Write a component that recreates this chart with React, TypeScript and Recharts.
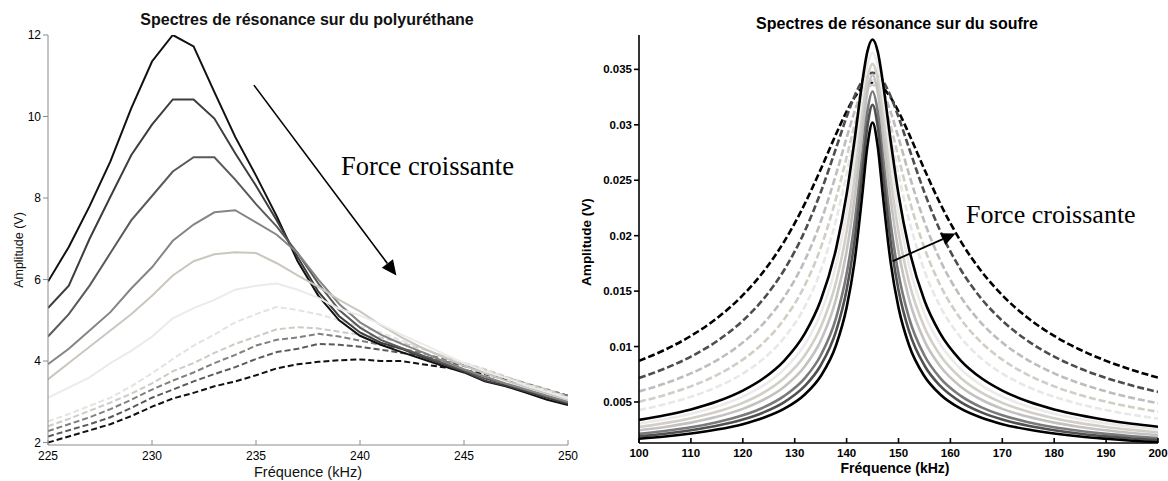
import React from 'react';
import { LineChart, Line, XAxis, YAxis, ReferenceLine } from 'recharts';

// ---------- Left panel: polyurethane ----------
const leftFreq = [225, 226, 227, 228, 229, 230, 231, 232, 233, 234, 235, 236, 237, 238, 239, 240, 241, 242, 243, 244, 245, 246, 247, 248, 249, 250];
const leftXTicks = [225, 230, 235, 240, 245, 250];
const leftYTicks = [2, 4, 6, 8, 10, 12];

const L1 = [5.95, 6.8, 7.8, 8.9, 10.2, 11.35, 12.0, 11.72, 10.6, 9.5, 8.55, 7.55, 6.45, 5.6, 5.0, 4.62, 4.4, 4.22, 4.05, 3.88, 3.72, 3.5, 3.38, 3.22, 3.05, 2.92];
const L2 = [5.3, 5.85, 7.0, 8.03, 9.05, 9.8, 10.42, 10.42, 9.95, 9.1, 8.3, 7.45, 6.55, 5.7, 5.1, 4.7, 4.45, 4.3, 4.1, 3.92, 3.74, 3.52, 3.4, 3.25, 3.1, 2.95];
const L3 = [4.6, 5.15, 5.85, 6.65, 7.45, 8.05, 8.65, 9.0, 9.0, 8.45, 7.85, 7.3, 6.65, 5.9, 5.25, 4.82, 4.52, 4.32, 4.14, 3.95, 3.77, 3.57, 3.44, 3.28, 3.13, 2.98];
const L4 = [3.92, 4.3, 4.75, 5.2, 5.78, 6.3, 6.95, 7.35, 7.65, 7.7, 7.4, 7.1, 6.65, 6.0, 5.4, 4.95, 4.65, 4.42, 4.22, 4.0, 3.8, 3.62, 3.45, 3.3, 3.15, 3.0];
const L5 = [3.55, 3.95, 4.35, 4.75, 5.15, 5.6, 6.1, 6.45, 6.62, 6.67, 6.65, 6.4, 6.1, 5.82, 5.5, 5.22, 4.88, 4.58, 4.32, 4.1, 3.88, 3.7, 3.52, 3.36, 3.2, 3.05];
const L6 = [3.1, 3.35, 3.6, 3.95, 4.25, 4.6, 5.05, 5.3, 5.5, 5.75, 5.85, 5.9, 5.75, 5.55, 5.28, 5.12, 4.9, 4.65, 4.42, 4.18, 3.95, 3.75, 3.58, 3.4, 3.25, 3.08];
const L7 = [2.52, 2.7, 2.9, 3.1, 3.38, 3.7, 4.05, 4.38, 4.65, 4.95, 5.15, 5.33, 5.25, 5.15, 5.0, 4.85, 4.7, 4.5, 4.32, 4.12, 3.95, 3.78, 3.6, 3.42, 3.28, 3.1];
const L8 = [2.4, 2.58, 2.78, 2.98, 3.2, 3.45, 3.75, 3.95, 4.2, 4.42, 4.6, 4.78, 4.83, 4.8, 4.72, 4.65, 4.58, 4.45, 4.3, 4.12, 3.95, 3.8, 3.62, 3.45, 3.3, 3.12];
const L9 = [2.28, 2.45, 2.62, 2.82, 3.05, 3.3, 3.52, 3.72, 3.95, 4.15, 4.38, 4.52, 4.58, 4.67, 4.6, 4.5, 4.4, 4.3, 4.2, 4.05, 3.9, 3.75, 3.6, 3.45, 3.3, 3.15];
const L10 = [2.15, 2.3, 2.45, 2.62, 2.85, 3.1, 3.3, 3.5, 3.68, 3.85, 4.05, 4.22, 4.3, 4.42, 4.4, 4.35, 4.28, 4.2, 4.12, 4.0, 3.88, 3.72, 3.58, 3.42, 3.28, 3.12];
const L11 = [2.0, 2.15, 2.3, 2.45, 2.65, 2.88, 3.08, 3.22, 3.38, 3.5, 3.65, 3.82, 3.92, 3.98, 4.02, 4.04, 4.0, 4.0, 3.92, 3.85, 3.78, 3.68, 3.55, 3.42, 3.28, 3.15];

// arrow annotation (data coordinates)
const leftArrowFrom = { x: 234.9, y: 10.77 };
const leftArrowTo = { x: 241.75, y: 6.1 };

// ---------- Right panel: sulfur ----------
const rightFreq = [100, 105, 110, 115, 120, 124, 128, 132, 135, 138, 140, 141.5, 143, 144, 145, 146, 147, 148.5, 150, 152, 155, 158, 162, 166, 170, 175, 180, 185, 190, 195, 200];
const rightXTicks = [100, 110, 120, 130, 140, 150, 160, 170, 180, 190, 200];
const rightYTicks = [0.005, 0.01, 0.015, 0.02, 0.025, 0.03, 0.035];

const C1 = [0.00871, 0.00971, 0.01096, 0.01255, 0.01463, 0.01677, 0.01949, 0.02293, 0.02597, 0.0292, 0.0312, 0.03245, 0.03334, 0.03368, 0.0338, 0.03368, 0.03334, 0.03245, 0.0312, 0.0292, 0.02597, 0.02293, 0.01949, 0.01677, 0.01463, 0.01255, 0.01096, 0.00971, 0.00871, 0.00789, 0.0072];
const C2 = [0.00717, 0.00802, 0.00909, 0.01048, 0.01233, 0.0143, 0.01693, 0.02047, 0.0239, 0.02794, 0.03071, 0.03256, 0.03396, 0.03451, 0.0347, 0.03451, 0.03396, 0.03256, 0.03071, 0.02794, 0.0239, 0.02047, 0.01693, 0.0143, 0.01233, 0.01048, 0.00909, 0.00802, 0.00717, 0.00648, 0.00591];
const C3 = [0.00595, 0.00667, 0.00758, 0.00876, 0.01036, 0.0121, 0.01448, 0.01782, 0.02124, 0.02559, 0.02883, 0.03115, 0.03298, 0.03374, 0.034, 0.03374, 0.03298, 0.03115, 0.02883, 0.02559, 0.02124, 0.01782, 0.01448, 0.0121, 0.01036, 0.00876, 0.00758, 0.00667, 0.00595, 0.00537, 0.00489];
const C4 = [0.00502, 0.00563, 0.00641, 0.00743, 0.00882, 0.01035, 0.01248, 0.01557, 0.01889, 0.02341, 0.02707, 0.02988, 0.03223, 0.03324, 0.0336, 0.03324, 0.03223, 0.02988, 0.02707, 0.02341, 0.01889, 0.01557, 0.01248, 0.01035, 0.00882, 0.00743, 0.00641, 0.00563, 0.00502, 0.00453, 0.00412];
const C5 = [0.00427, 0.0048, 0.00547, 0.00635, 0.00756, 0.00891, 0.01081, 0.01365, 0.01684, 0.02147, 0.02556, 0.02897, 0.03208, 0.03349, 0.034, 0.03349, 0.03208, 0.02897, 0.02556, 0.02147, 0.01684, 0.01365, 0.01081, 0.00891, 0.00756, 0.00635, 0.00547, 0.0048, 0.00427, 0.00385, 0.0035];
const C6 = [0.00338, 0.0038, 0.00433, 0.00504, 0.00603, 0.00714, 0.00874, 0.01121, 0.01415, 0.01888, 0.02373, 0.02852, 0.0338, 0.0366, 0.0377, 0.0366, 0.0338, 0.02852, 0.02373, 0.01888, 0.01415, 0.01121, 0.00874, 0.00714, 0.00603, 0.00504, 0.00433, 0.0038, 0.00338, 0.00304, 0.00277];
const C7 = [0.00307, 0.00345, 0.00394, 0.00459, 0.00548, 0.0065, 0.00796, 0.01024, 0.01297, 0.01741, 0.02209, 0.02685, 0.0323, 0.0353, 0.0365, 0.0353, 0.0323, 0.02685, 0.02209, 0.01741, 0.01297, 0.01024, 0.00796, 0.0065, 0.00548, 0.00459, 0.00394, 0.00345, 0.00307, 0.00277, 0.00252];
const C8 = [0.00275, 0.00309, 0.00353, 0.00411, 0.00492, 0.00584, 0.00716, 0.00923, 0.01173, 0.01588, 0.02036, 0.0251, 0.03082, 0.03413, 0.0355, 0.03413, 0.03082, 0.0251, 0.02036, 0.01588, 0.01173, 0.00923, 0.00716, 0.00584, 0.00492, 0.00411, 0.00353, 0.00309, 0.00275, 0.00248, 0.00225];
const C9 = [0.00245, 0.00275, 0.00314, 0.00366, 0.00438, 0.0052, 0.00638, 0.00825, 0.01051, 0.01434, 0.0186, 0.02328, 0.02926, 0.03293, 0.0345, 0.03293, 0.02926, 0.02328, 0.0186, 0.01434, 0.01051, 0.00825, 0.00638, 0.0052, 0.00438, 0.00366, 0.00314, 0.00275, 0.00245, 0.0022, 0.002];
const C10 = [0.00212, 0.00239, 0.00272, 0.00318, 0.0038, 0.00451, 0.00555, 0.00718, 0.00919, 0.01263, 0.01656, 0.02105, 0.02717, 0.0312, 0.033, 0.0312, 0.02717, 0.02105, 0.01656, 0.01263, 0.00919, 0.00718, 0.00555, 0.00451, 0.0038, 0.00318, 0.00272, 0.00239, 0.00212, 0.00191, 0.00174];
const C11 = [0.0019, 0.00214, 0.00245, 0.00285, 0.00341, 0.00406, 0.00499, 0.00647, 0.00829, 0.01144, 0.01511, 0.01942, 0.02555, 0.02982, 0.0318, 0.02982, 0.02555, 0.01942, 0.01511, 0.01144, 0.00829, 0.00647, 0.00499, 0.00406, 0.00341, 0.00285, 0.00245, 0.00214, 0.0019, 0.00171, 0.00156];
const C12 = [0.00168, 0.00188, 0.00215, 0.00251, 0.003, 0.00357, 0.00439, 0.0057, 0.00732, 0.01016, 0.01351, 0.01755, 0.02358, 0.02804, 0.0302, 0.02804, 0.02358, 0.01755, 0.01351, 0.01016, 0.00732, 0.0057, 0.00439, 0.00357, 0.003, 0.00251, 0.00215, 0.00188, 0.00168, 0.00151, 0.00137];

const rightArrowFrom = { x: 148.9, y: 0.0177 };
const rightArrowTo = { x: 161.0, y: 0.0202 };

// ---------- tables built from the arrays ----------
const leftValues: Record<string, number[]> = { l1: L1, l2: L2, l3: L3, l4: L4, l5: L5, l6: L6, l7: L7, l8: L8, l9: L9, l10: L10, l11: L11 };
const leftData = leftFreq.map((f, i) => {
  const row: Record<string, number> = { f };
  Object.keys(leftValues).forEach((k) => (row[k] = leftValues[k][i]));
  return row;
});
const rightValues: Record<string, number[]> = { c1: C1, c2: C2, c3: C3, c4: C4, c5: C5, c6: C6, c7: C7, c8: C8, c9: C9, c10: C10, c11: C11, c12: C12 };
const rightData = rightFreq.map((f, i) => {
  const row: Record<string, number> = { f };
  Object.keys(rightValues).forEach((k) => (row[k] = rightValues[k][i]));
  return row;
});

// ---------- styles ----------
const SANS = '"Liberation Sans", Arial, Helvetica, sans-serif';
const SERIF = '"Liberation Serif", "Times New Roman", serif';

const leftStyles: { key: string; color: string; dashed: boolean }[] = [
  { key: 'l11', color: '#111111', dashed: true },
  { key: 'l10', color: '#5a5a5a', dashed: true },
  { key: 'l9', color: '#808080', dashed: true },
  { key: 'l8', color: '#cfcbc3', dashed: true },
  { key: 'l7', color: '#e3e3e3', dashed: true },
  { key: 'l1', color: '#111111', dashed: false },
  { key: 'l2', color: '#3d3d3d', dashed: false },
  { key: 'l3', color: '#5a5a5a', dashed: false },
  { key: 'l4', color: '#858585', dashed: false },
  { key: 'l5', color: '#cbc7bf', dashed: false },
  { key: 'l6', color: '#ebebeb', dashed: false },
];

const rightStyles: { key: string; color: string; dashed: boolean }[] = [
  { key: 'c1', color: '#000000', dashed: true },
  { key: 'c2', color: '#4d4d4d', dashed: true },
  { key: 'c3', color: '#bdbdbd', dashed: true },
  { key: 'c4', color: '#d3cec5', dashed: true },
  { key: 'c5', color: '#e8e8e8', dashed: true },
  { key: 'c7', color: '#ebebeb', dashed: false },
  { key: 'c8', color: '#d3cec6', dashed: false },
  { key: 'c9', color: '#c2c2c2', dashed: false },
  { key: 'c10', color: '#7a7a7a', dashed: false },
  { key: 'c11', color: '#505050', dashed: false },
  { key: 'c6', color: '#000000', dashed: false },
  { key: 'c12', color: '#000000', dashed: false },
];

const arrowShape = (head: number, half: number, width: number) => (props: any) => {
  const x1 = Number(props.x1), y1 = Number(props.y1), x2 = Number(props.x2), y2 = Number(props.y2);
  const a = Math.atan2(y2 - y1, x2 - x1);
  const bx = x2 - head * Math.cos(a);
  const by = y2 - head * Math.sin(a);
  const px = -Math.sin(a) * half;
  const py = Math.cos(a) * half;
  return (
    <g>
      <line x1={x1} y1={y1} x2={bx} y2={by} stroke="#000" strokeWidth={width} />
      <polygon points={`${x2},${y2} ${bx + px},${by + py} ${bx - px},${by - py}`} fill="#000" />
    </g>
  );
};

const fmtRight = (v: number) => String(Number(v.toFixed(3)));

const abs = (s: React.CSSProperties): React.CSSProperties => ({ position: 'absolute', whiteSpace: 'nowrap', lineHeight: 1, ...s });

export default function App() {
  return (
    <div style={{ position: 'absolute', left: 0, top: 0, width: 1168, height: 481, background: '#fff', overflow: 'hidden' }}>
      <div style={{ position: 'absolute', left: 0, top: 0 }}>
        <LineChart width={580} height={481} data={leftData} margin={{ top: 35, right: 12, bottom: 0, left: 0 }}>
          <XAxis
            dataKey="f"
            type="number"
            domain={[225, 250]}
            ticks={leftXTicks}
            allowDataOverflow
            interval={0}
            height={36}
            tickSize={-5}
            tickMargin={11}
            stroke="#8c8c8c"
            tick={{ fill: '#000', fontSize: 12, fontFamily: SANS }}
          />
          <YAxis
            type="number"
            domain={[1.94, 12]}
            ticks={leftYTicks}
            allowDataOverflow
            interval={0}
            width={48}
            tickSize={5}
            tickMargin={2}
            stroke="#8c8c8c"
            tick={{ fill: '#000', fontSize: 12, fontFamily: SANS }}
          />
          {leftStyles.map((s) => (
            <Line
              key={s.key}
              dataKey={s.key}
              type="linear"
              stroke={s.color}
              strokeWidth={2}
              strokeDasharray={s.dashed ? '6 3' : undefined}
              dot={false}
              activeDot={false}
              isAnimationActive={false}
            />
          ))}
          <ReferenceLine segment={[leftArrowFrom, leftArrowTo]} ifOverflow="visible" shape={arrowShape(15, 7, 1.6)} />
        </LineChart>
      </div>

      <div style={{ position: 'absolute', left: 580, top: 0 }}>
        <LineChart width={588} height={481} data={rightData} margin={{ top: 35, right: 10, bottom: 0, left: 0 }}>
          <XAxis
            dataKey="f"
            type="number"
            domain={[100, 200]}
            ticks={rightXTicks}
            allowDataOverflow
            interval={0}
            height={38}
            tickSize={-5}
            tickMargin={11}
            axisLine={{ stroke: '#000', strokeWidth: 1.6 }}
            tickLine={{ stroke: '#000', strokeWidth: 1.6 }}
            tick={{ fill: '#000', fontSize: 11.5, fontWeight: 'bold', fontFamily: SANS }}
          />
          <YAxis
            type="number"
            domain={[0.0013, 0.0381]}
            ticks={rightYTicks}
            tickFormatter={fmtRight}
            allowDataOverflow
            interval={0}
            width={59}
            tickSize={5}
            tickMargin={2}
            axisLine={{ stroke: '#000', strokeWidth: 1.6 }}
            tickLine={{ stroke: '#000', strokeWidth: 1.6 }}
            tick={{ fill: '#000', fontSize: 11.5, fontWeight: 'bold', fontFamily: SANS }}
          />
          {rightStyles.map((s) => (
            <Line
              key={s.key}
              dataKey={s.key}
              type="monotone"
              stroke={s.color}
              strokeWidth={2.6}
              strokeDasharray={s.dashed ? '7 3' : undefined}
              dot={false}
              activeDot={false}
              isAnimationActive={false}
            />
          ))}
          <ReferenceLine segment={[rightArrowFrom, rightArrowTo]} ifOverflow="visible" shape={arrowShape(14, 6.5, 1.8)} />
        </LineChart>
      </div>

      {/* Left panel texts */}
      <div style={abs({ left: 307, top: 11.5, transform: 'translateX(-50%)', fontFamily: SANS, fontWeight: 'bold', fontSize: 16, color: '#111' })}>
        Spectres de résonance sur du polyuréthane
      </div>
      <div style={abs({ left: 308, top: 471.5, transform: 'translate(-50%, -50%)', fontFamily: SANS, fontSize: 14.5, color: '#111' })}>
        Fréquence (kHz)
      </div>
      <div style={abs({ left: 18.5, top: 250, transform: 'translate(-50%, -50%) rotate(-90deg)', fontFamily: SANS, fontSize: 12.5, color: '#111' })}>
        Amplitude (V)
      </div>
      <div style={abs({ left: 341, top: 153.3, fontFamily: SERIF, fontSize: 26.5, color: '#000' })}>Force croissante</div>

      {/* Right panel texts */}
      <div style={abs({ left: 897, top: 15.5, transform: 'translateX(-50%)', fontFamily: SANS, fontWeight: 'bold', fontSize: 16, color: '#000' })}>
        Spectres de résonance sur du soufre
      </div>
      <div style={abs({ left: 895, top: 467.5, transform: 'translate(-50%, -50%)', fontFamily: SANS, fontWeight: 'bold', fontSize: 14, color: '#000' })}>
        Fréquence (kHz)
      </div>
      <div style={abs({ left: 586.5, top: 242, transform: 'translate(-50%, -50%) rotate(-90deg)', fontFamily: SANS, fontWeight: 'bold', fontSize: 13.5, color: '#000' })}>
        Amplitude (V)
      </div>
      <div style={abs({ left: 966, top: 201.5, fontFamily: SERIF, fontSize: 26, color: '#000' })}>Force croissante</div>
    </div>
  );
}
